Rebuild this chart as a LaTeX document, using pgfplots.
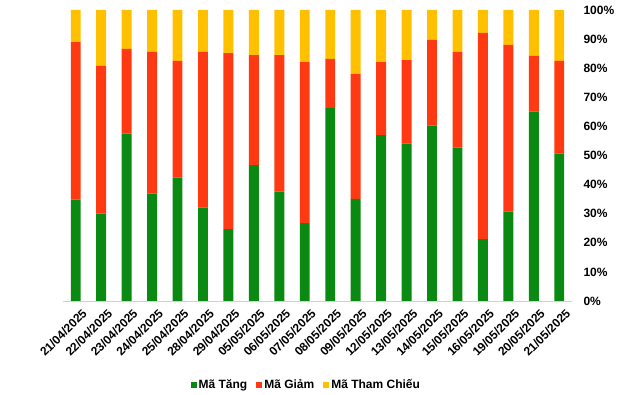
\documentclass[border=0pt]{standalone}
\usepackage{fontspec}
\setmainfont{Liberation Sans}
\usepackage{pgfplots}
\pgfplotsset{compat=1.18}
\usepackage{pgfplotstable}
\usetikzlibrary{calc}
\definecolor{cG}{RGB}{10,138,18}
\definecolor{cR}{RGB}{255,58,18}
\definecolor{cY}{RGB}{255,192,0}
\pgfplotstableread{
x tang giam tc
0 34.8 54.2 11.0
1 30.0 50.8 19.2
2 57.5 29.1 13.4
3 36.9 48.7 14.4
4 42.4 40.1 17.5
5 32.1 53.5 14.4
6 24.7 60.5 14.8
7 46.7 37.8 15.5
8 37.6 46.9 15.5
9 26.8 55.3 17.9
10 66.4 16.8 16.8
11 35.1 42.9 22.0
12 57.0 25.1 17.9
13 54.1 28.7 17.2
14 60.3 29.4 10.3
15 52.7 32.9 14.4
16 21.3 70.8 7.9
17 30.7 57.3 12.0
18 65.1 19.1 15.8
19 50.6 31.9 17.5
}\data
\begin{document}
\begin{tikzpicture}
\begin{axis}[
  name=a,
  scale only axis, width=509pt, height=291pt,
  ybar stacked, bar width=0.39,
  xmin=-0.5, xmax=19.5, ymin=0, ymax=100,
  axis y line*=right, axis x line*=bottom,
  y axis line style={draw=none},
  x axis line style={draw=black!18, line width=0.8pt},
  major tick length=0pt,
  xtick=data,
  xticklabels={21/04/2025,22/04/2025,23/04/2025,24/04/2025,25/04/2025,28/04/2025,29/04/2025,05/05/2025,06/05/2025,07/05/2025,08/05/2025,09/05/2025,12/05/2025,13/05/2025,14/05/2025,15/05/2025,16/05/2025,19/05/2025,20/05/2025,21/05/2025},
  xticklabel style={rotate=45, anchor=north east, font=\fontsize{12}{14}\selectfont\bfseries, xshift=0pt, yshift=-8pt, inner sep=1pt},
  ytick={0,10,...,100},
  yticklabel={\pgfmathprintnumber{\tick}\%},
  yticklabel style={anchor=west, font=\fontsize{12}{14}\selectfont\bfseries, xshift=8pt},
  /pgf/number format/assume math mode=true,
  legend style={at={(0.478,-0.289)}, anchor=center, draw=none, legend columns=3,
    font=\fontsize{12}{14}\selectfont\bfseries, inner sep=0pt,
    /tikz/every even column/.append style={column sep=7pt}},
  legend image code/.code={\fill[#1] (1pt,-3pt) rectangle (7pt,3pt);},
]
\addplot[fill=cG, draw=none] table[x=x,y=tang]{\data};
\addplot[fill=cR, draw=none] table[x=x,y=giam]{\data};
\addplot[fill=cY, draw=none] table[x=x,y=tc]{\data};
\legend{Mã Tăng, Mã Giảm, Mã Tham Chiếu}
\end{axis}
\path ($(a.south west)+(-63pt,-94pt)$) rectangle ($(a.north east)+(68pt,10pt)$);
\end{tikzpicture}
\end{document}
